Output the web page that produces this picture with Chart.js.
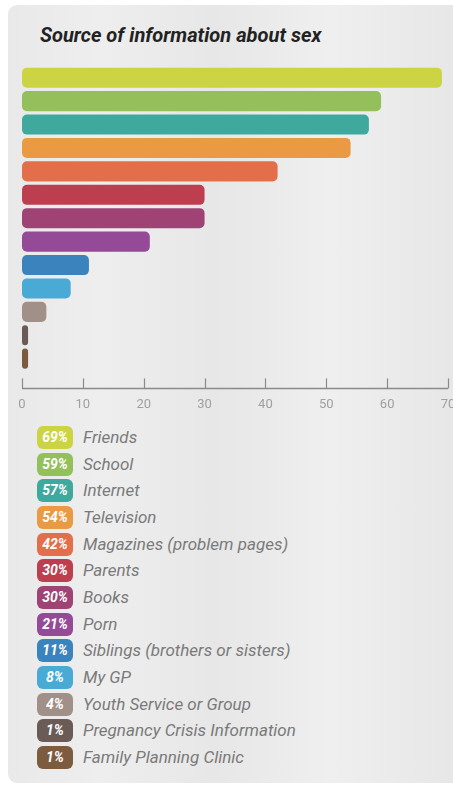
<!DOCTYPE html>
<html>
<head>
<meta charset="utf-8">
<script src="https://cdn.jsdelivr.net/npm/chart.js@4"></script>
<style>
  html,body{margin:0;padding:0;background:#fff;}
  body{width:453px;height:786px;position:relative;overflow:hidden;}
  #panel{position:absolute;left:8px;top:5px;width:460px;height:778px;border-radius:9px;
    background:linear-gradient(90deg,#e9e9e9 0%,#eeeeee 20%,#e7e7e7 45%,#efefef 70%,#e6e6e6 100%);}
  #title{position:absolute;left:40px;top:24px;font-family:"Roboto",sans-serif;transform:scaleX(0.955);transform-origin:0 0;
    font-weight:bold;font-style:italic;font-size:21px;line-height:23px;color:#222;white-space:nowrap;}
  #wrap{position:absolute;left:0;top:0;width:453px;height:420px;}
  #legend{position:absolute;left:37px;top:426px;}
  .row{height:26.67px;position:relative;}
  .box{position:absolute;left:0;top:0;width:36px;height:23px;border-radius:6px;color:#fff;
    font-family:"Roboto",sans-serif;font-weight:bold;font-style:italic;font-size:14px;line-height:23px;text-align:center;}
  .lab{position:absolute;left:46px;top:0;line-height:23px;font-family:"Roboto",sans-serif;font-style:italic;
    font-size:17px;color:#7a7a7a;white-space:nowrap;}
</style>
</head>
<body>
<div id="panel"></div>
<div id="title">Source of information about sex</div>
<div id="wrap"><canvas id="c" width="453" height="420"></canvas></div>
<div id="legend"></div>
<script>
const categories = ["Friends","School","Internet","Television","Magazines (problem pages)","Parents","Books","Porn","Siblings (brothers or sisters)","My GP","Youth Service or Group","Pregnancy Crisis Information","Family Planning Clinic"];
const values = [69,59,57,54,42,30,30,21,11,8,4,1,1];
const colors = ["#ccd444","#93c05a","#3fa99e","#e99a43","#e36e4a","#bd3f4f","#9e4374","#954a98","#3b83bc","#48aad5","#a09088","#6a5b57","#7d5b3e"];
const xTicks = [0,10,20,30,40,50,60,70];

const axisPlugin = {
  id:'axisUp',
  afterDraw(chart){
    const x = chart.scales.x, ctx = chart.ctx;
    const y = chart.chartArea.bottom + 18;
    ctx.save();
    ctx.strokeStyle = '#8a8a8a';
    ctx.lineWidth = 1.5;
    ctx.beginPath();
    ctx.moveTo(x.getPixelForValue(xTicks[0]), y);
    ctx.lineTo(x.getPixelForValue(xTicks[xTicks.length-1]), y);
    ctx.stroke();
    ctx.lineWidth = 1.2;
    xTicks.forEach(v=>{
      const px = Math.round(x.getPixelForValue(v))+0.5;
      ctx.beginPath(); ctx.moveTo(px, y); ctx.lineTo(px, y-10); ctx.stroke();
    });
    ctx.restore();
  }
};

new Chart(document.getElementById('c'), {
  type:'bar',
  data:{labels:categories, datasets:[{data:values, backgroundColor:colors, borderRadius:5, borderSkipped:false,
    categoryPercentage:1, barPercentage:0.86}]},
  options:{
    indexAxis:'y', responsive:false, animation:false,
    layout:{padding:{left:22,right:5,top:66,bottom:7}},
    plugins:{legend:{display:false}, tooltip:{enabled:false}},
    scales:{
      y:{display:false},
      x:{min:0,max:70,
        afterFit(s){ s.paddingLeft = 0; s.paddingRight = 0; },
        grid:{display:false,drawTicks:true,tickLength:27}, border:{display:false},
        ticks:{stepSize:10,padding:0,color:'#a0a0a0',font:{family:'Roboto, sans-serif',size:13}}}
    }
  },
  plugins:[axisPlugin]
});

const leg = document.getElementById('legend');
categories.forEach((c,i)=>{
  const r = document.createElement('div'); r.className='row';
  const b = document.createElement('div'); b.className='box'; b.style.background=colors[i]; b.textContent=values[i]+'%';
  const l = document.createElement('div'); l.className='lab'; l.textContent=c;
  r.appendChild(b); r.appendChild(l); leg.appendChild(r);
});
</script>
</body>
</html>
